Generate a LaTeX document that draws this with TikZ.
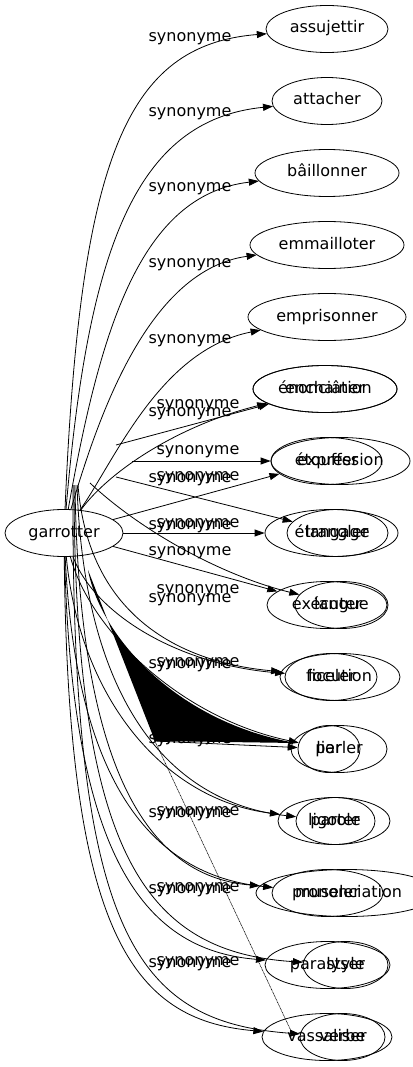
\documentclass[tikz,border=0pt]{standalone}
\usepackage{fontspec}
\setmainfont{DejaVu Sans}
\usetikzlibrary{arrows.meta,shapes.geometric}
\begin{document}
\begin{tikzpicture}[x=1pt,y=-1pt,
  every node/.style={font=\fontsize{16}{18}\selectfont, text height=11.5pt, text depth=3.5pt},
  wnode/.style={draw, ellipse, line width=0.8pt, minimum height=47pt, inner sep=0pt},
  lab/.style={inner sep=0pt},
  edge/.style={draw, line width=0.8pt, -{Triangle[length=10pt,width=7pt]}},
  ]
\useasboundingbox (0,0) rectangle (412,1067);
% source
\node[wnode, minimum width=118pt] (g) at (64,533) {garrotter};
% first graph targets
\node[wnode, minimum width=122pt] (t0) at (327,29) {assujettir};
\node[wnode, minimum width=110pt] (t1) at (327,101) {attacher};
\node[wnode, minimum width=144pt] (t2) at (327,173) {bâillonner};
\node[wnode, minimum width=154pt] (t3) at (327,245) {emmailloter};
\node[wnode, minimum width=158pt] (t4) at (327,317) {emprisonner};
\node[wnode, minimum width=144pt] (m5) at (325,389) {enchaîner};
\node[wnode, minimum width=111pt] (m6) at (326.5,461) {étouffer};
\node[wnode, minimum width=133pt] (m7) at (331.5,533) {étrangler};
\node[wnode, minimum width=120pt] (m8) at (327,605) {exécuter};
\node[wnode, minimum width=92pt] (m9) at (331,677) {ficeler};
\node[wnode, minimum width=62pt] (m10) at (329,749) {lier};
\node[wnode, minimum width=112pt] (m11) at (334,821) {ligoter};
\node[wnode, minimum width=111pt] (m12) at (327.5,893) {museler};
\node[wnode, minimum width=125pt] (m13) at (327.5,965) {paralyser};
\node[wnode, minimum width=130pt] (m14) at (327,1037) {vassaliser};
% second graph targets
\node[wnode, minimum width=144pt] (n5) at (325,389) {énonciation};
\node[wnode, minimum width=139pt] (n6) at (340.5,461) {expression};
\node[wnode, minimum width=101pt] (n7) at (337.5,533) {langage};
\node[wnode, minimum width=93pt] (n8) at (341.5,605) {langue};
\node[wnode, minimum width=120pt] (n9) at (340,677) {locution};
\node[wnode, minimum width=96pt] (n10) at (339,749) {parler};
\node[wnode, minimum width=79pt] (n11) at (335.5,821) {parole};
\node[wnode, minimum width=182pt] (n12) at (347,893) {prononciation};
\node[wnode, minimum width=85pt] (n13) at (345.5,965) {style};
\node[wnode, minimum width=85pt] (n14) at (342.5,1037) {verbe};
% free ends of the second graph
\coordinate (s5) at (116,445);
\coordinate (s6) at (132,461);
\coordinate (s7) at (116,477);
\coordinate (s8) at (90,483);
\coordinate (s9) at (78,485);
\coordinate (s11) at (77,485);
\coordinate (s12) at (75,485);
\coordinate (s13) at (74,485);
\coordinate (s14) at (73,485);
\coordinate (w1) at (88,570);
\coordinate (w2) at (296,743);
\coordinate (w3) at (155,741);
\coordinate (d1) at (153,737);
\coordinate (d2) at (292,1033);
% labels
\node[lab] (l0) at (190,38) {synonyme};
\node[lab] (l1) at (190,113) {synonyme};
\node[lab] (l2) at (190,188) {synonyme};
\node[lab] (l3) at (190,263) {synonyme};
\node[lab] (l4) at (190,339) {synonyme};
\node[lab] (l5) at (198,404) {synonyme};
\node[lab] (l6) at (190,412) {synonyme};
\node[lab] (l7) at (198,450) {synonyme};
\node[lab] (l8) at (190,478) {synonyme};
\node[lab] (l9) at (198,476) {synonyme};
\node[lab] (l10) at (190,525) {synonyme};
\node[lab] (l11) at (198,523) {synonyme};
\node[lab] (l12) at (190,551) {synonyme};
\node[lab] (l13) at (198,589) {synonyme};
\node[lab] (l14) at (190,598) {synonyme};
\node[lab] (l15) at (190,664) {synonyme};
\node[lab] (l16) at (198,662) {synonyme};
\node[lab] (l17) at (190,739) {synonyme};
\node[lab] (l18) at (198,737) {synonyme};
\node[lab] (l19) at (190,813) {synonyme};
\node[lab] (l20) at (198,811) {synonyme};
\node[lab] (l21) at (190,889) {synonyme};
\node[lab] (l22) at (198,887) {synonyme};
\node[lab] (l23) at (190,963) {synonyme};
\node[lab] (l24) at (198,961) {synonyme};
% edges
\draw[edge] (g) .. controls (80,160) and (125,45) .. (t0);
\draw[edge] (g) .. controls (88,250) and (135,120) .. (t1);
\draw[edge] (g) .. controls (100,330) and (140,195) .. (t2);
\draw[edge] (g) .. controls (100,410) and (150,270) .. (t3);
\draw[edge] (g) .. controls (115,460) and (160,350) .. (t4);
\draw[edge] (g) .. controls (110,470) and (180,425) .. (m5);
\draw[edge] (s5) -- (n5);
\draw[edge] (g) -- (m6);
\draw[edge] (s6) -- (n6);
\draw[edge] (g) -- (m7);
\draw[edge] (s7) -- (n7);
\draw[edge] (g) -- (m8);
\draw[edge] (s8) .. controls (140,530) and (220,575) .. (n8);
\draw[edge] (g) .. controls (95,615) and (180,665) .. (m9);
\draw[edge] (s9) .. controls (88,612) and (175,662) .. (n9);
\draw[edge] (g) .. controls (90,630) and (180,718) .. (m10);
\fill (w1) .. controls (100,635) and (175,722) .. (w2) -- (w3) -- cycle;
\draw[edge] (w3) -- (m10);
\draw[edge] (g) .. controls (80,700) and (165,800) .. (m11);
\draw[edge] (s11) .. controls (84,702) and (170,803) .. (n11);
\draw[edge] (g) .. controls (76,780) and (150,875) .. (m12);
\draw[edge] (s12) .. controls (79,782) and (154,877) .. (n12);
\draw[edge] (g) .. controls (72,850) and (140,950) .. (m13);
\draw[edge] (s13) .. controls (75,852) and (144,952) .. (n13);
\draw[edge] (g) .. controls (68,930) and (130,1020) .. (m14);
\draw[edge] (s14) .. controls (71,932) and (134,1022) .. (n14);
\draw[line width=0.6pt, dash pattern=on 1pt off 0.6pt] (d1) -- (d2);
\end{tikzpicture}
\end{document}
